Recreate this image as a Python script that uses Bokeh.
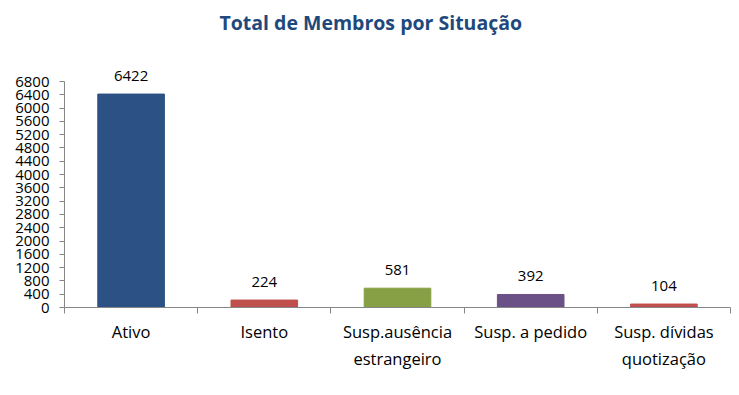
from bokeh.plotting import figure
from bokeh.models import ColumnDataSource, FixedTicker, LabelSet, Range1d, Title
from bokeh.core.properties import value
from bokeh.embed import file_html
from bokeh.resources import INLINE

categories = ["Ativo", "Isento", "Susp.ausência\nestrangeiro", "Susp. a pedido", "Susp. dívidas\nquotização"]
values = [6422, 224, 581, 392, 104]
colors = ["#2B5185", "#C0504D", "#87A045", "#6A5086", "#C0504D"]
y_ticks = list(range(0, 6801, 400))

positions = [i + 0.5 for i in range(len(categories))]
source = ColumnDataSource(dict(x=positions, top=values, color=colors,
                               label=[str(v) for v in values]))

p = figure(width=731, height=387, output_backend="svg", toolbar_location=None,
           x_range=Range1d(0, len(categories)), y_range=Range1d(0, 8034),
           min_border_left=64, min_border_right=1, min_border_top=40, min_border_bottom=80)
p.title = None
p.add_layout(Title(text="Total de Membros por Situação", align="left",
                   text_font="Open Sans", text_font_size="19.5px", text_font_style="bold",
                   text_color="#1F497D", offset=155, standoff=10), "above")

p.vbar(x="x", top="top", width=0.5, bottom=0, fill_color="color", line_color="color",
       source=source)

labels = LabelSet(x="x", y="top", text="label", source=source, text_align="center",
                  text_baseline="bottom", y_offset=13, text_font=value("Open Sans"),
                  text_font_size=value("15px"), text_color=value("#000000"))
p.add_layout(labels)

p.outline_line_color = None
p.xgrid.grid_line_color = None
p.ygrid.grid_line_color = None

p.yaxis.bounds = (0, 6800)
p.yaxis.ticker = FixedTicker(ticks=y_ticks)
p.yaxis.axis_line_color = "#868686"
p.yaxis.major_tick_line_color = "#868686"
p.yaxis.major_tick_out = 5
p.yaxis.major_tick_in = 0
p.yaxis.minor_tick_line_color = None
p.yaxis.major_label_text_font = "Open Sans"
p.yaxis.major_label_text_font_size = "15px"
p.yaxis.major_label_text_color = "#000000"
p.yaxis.major_label_standoff = 10

p.xaxis.ticker = FixedTicker(ticks=positions, minor_ticks=list(range(len(categories) + 1)))
p.xaxis.major_label_overrides = {pos: cat for pos, cat in zip(positions, categories)}
p.xaxis.axis_line_color = "#868686"
p.xaxis.major_tick_line_color = None
p.xaxis.major_tick_out = 0
p.xaxis.major_tick_in = 0
p.xaxis.minor_tick_line_color = "#868686"
p.xaxis.minor_tick_out = 6
p.xaxis.minor_tick_in = 0
p.xaxis.major_label_text_font = "Open Sans"
p.xaxis.major_label_text_font_size = "16.5px"
p.xaxis.major_label_text_color = "#000000"
p.xaxis.major_label_standoff = 6

open("out.html", "w").write(file_html(p, INLINE))
